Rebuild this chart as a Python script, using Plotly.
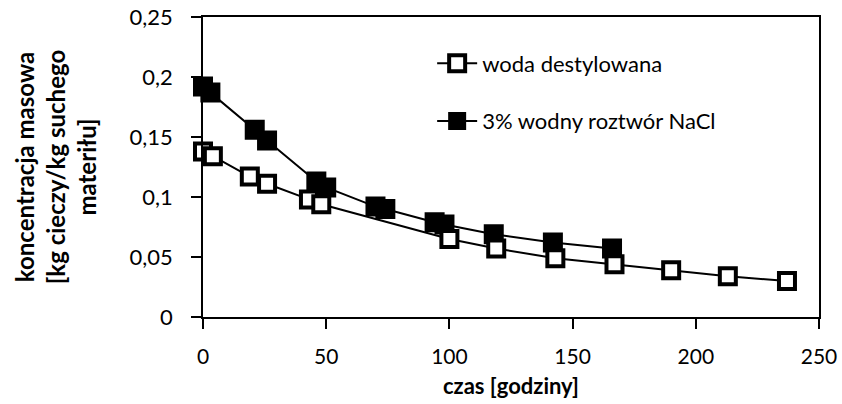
import plotly.graph_objects as go

# --- data ---
t_woda = [0, 4, 19, 26, 43, 48, 100, 119, 143, 167, 190, 213, 237]
c_woda = [0.138, 0.134, 0.117, 0.111, 0.098, 0.094, 0.065, 0.057, 0.049, 0.044, 0.039, 0.034, 0.030]

t_nacl = [0, 3, 21, 26, 46, 50, 70, 74, 94, 98, 118, 142, 166]
c_nacl = [0.192, 0.187, 0.156, 0.147, 0.113, 0.108, 0.092, 0.090, 0.079, 0.077, 0.069, 0.062, 0.057]

x_ticks = [0, 50, 100, 150, 200, 250]
x_ticklabels = ["0", "50", "100", "150", "200", "250"]
y_ticks = [0, 0.05, 0.1, 0.15, 0.2, 0.25]
y_ticklabels = ["0", "0,05", "0,1", "0,15", "0,2", "0,25"]

FONT = "Lato"

fig = go.Figure()
fig.add_trace(go.Scatter(
    x=t_nacl, y=c_nacl, mode="lines+markers", name="3% wodny roztwór NaCl",
    line=dict(color="black", width=2),
    marker=dict(symbol="square", size=18, color="black", line=dict(color="black", width=2)),
    cliponaxis=False, legendrank=2, legendgroup="b",
))
fig.add_trace(go.Scatter(
    x=t_woda, y=c_woda, mode="lines+markers", name="woda destylowana",
    line=dict(color="black", width=2),
    marker=dict(symbol="square", size=16, color="white", line=dict(color="black", width=4)),
    cliponaxis=False, legendrank=1, legendgroup="a",
))

axis_common = dict(
    showline=True, linecolor="black", linewidth=1.5, mirror=True,
    ticks="outside", ticklen=10, tickwidth=1.5, tickcolor="black",
    showgrid=False, zeroline=False, automargin=False,
)

fig.update_layout(
    width=842, height=404,
    margin=dict(l=203, r=23, t=17, b=87, autoexpand=False),
    paper_bgcolor="white", plot_bgcolor="white",
    font=dict(family=FONT, color="black", size=21),
    showlegend=True,
    legend=dict(
        x=0.372, y=0.915, xanchor="left", yanchor="top",
        bgcolor="rgba(0,0,0,0)", font=dict(size=22, family=FONT),
        tracegroupgap=26, traceorder="grouped", itemwidth=40,
    ),
    xaxis=dict(
        range=[0, 250], tickvals=x_ticks, ticktext=x_ticklabels,
        tickfont=dict(size=21), ticklabelstandoff=10,
        title=dict(text="<b>czas [godziny]</b>", font=dict(size=22), standoff=12),
        **axis_common,
    ),
    yaxis=dict(
        range=[0, 0.25], tickvals=y_ticks, ticktext=y_ticklabels,
        tickfont=dict(size=22), ticklabelstandoff=14,
        title=dict(text="<b>koncentracja masowa<br>[kg cieczy/kg suchego<br>materiłu]</b>",
                   font=dict(size=24), standoff=26),
        **axis_common,
    ),
)

fig.write_html("out.html", config={"displayModeBar": False},
               post_script="document.body.style.margin='0';")
